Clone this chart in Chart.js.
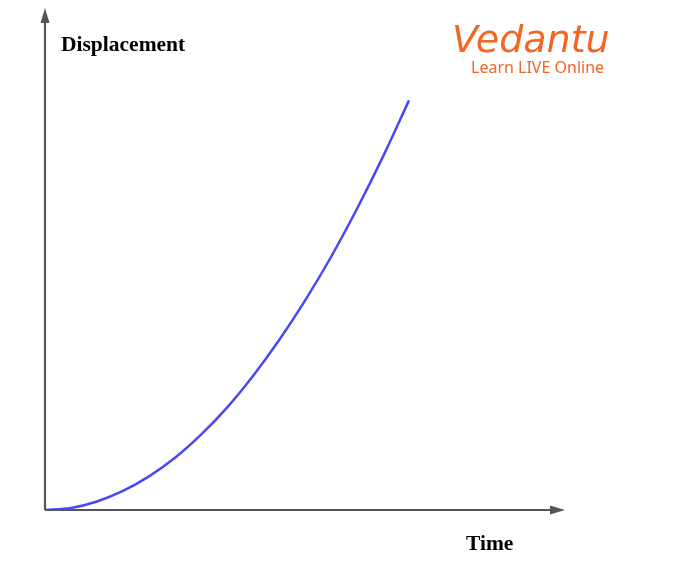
<!DOCTYPE html>
<html><head><meta charset="utf-8">
<script src="https://cdn.jsdelivr.net/npm/chart.js@4/dist/chart.umd.min.js"></script>
<style>html,body{margin:0;padding:0;background:#fff}#wrap{width:679px;height:568px;position:relative}</style>
</head><body><div id="wrap"><canvas id="c" width="679" height="568"></canvas></div>
<script>
const timeValues = [0, 0.5, 1, 1.5, 2, 2.5, 3, 3.5, 4, 4.5, 5, 5.5, 6, 6.5, 7];
const displacementValues = [0, 0.04, 0.17, 0.38, 0.67, 1.04, 1.5, 2.04, 2.67, 3.38, 4.17, 5.04, 6.0, 7.04, 8.16];
const xAxisLabel = "Time";
const yAxisLabel = "Displacement";
const brandName = "Vedantu";
const brandTag = "Learn LIVE Online";

const points = timeValues.map((t, i) => ({x: t, y: displacementValues[i]}));

const axesPlugin = {
  id: 'axes',
  afterDatasetsDraw(chart) {
    const {ctx, scales:{x, y}} = chart;
    const ox = x.getPixelForValue(0), oy = y.getPixelForValue(0);
    const xr = x.getPixelForValue(10), yt = y.getPixelForValue(10);
    ctx.save();
    ctx.strokeStyle = '#555'; ctx.fillStyle = '#555'; ctx.lineWidth = 2.2;
    ctx.beginPath(); ctx.moveTo(ox, oy); ctx.lineTo(xr - 12, oy); ctx.stroke();
    ctx.beginPath(); ctx.moveTo(ox, oy); ctx.lineTo(ox, yt + 12); ctx.stroke();
    ctx.beginPath(); ctx.moveTo(xr, oy); ctx.lineTo(xr - 15, oy - 4.5); ctx.lineTo(xr - 15, oy + 4.5); ctx.closePath(); ctx.fill();
    ctx.beginPath(); ctx.moveTo(ox, yt); ctx.lineTo(ox - 4.5, yt + 15); ctx.lineTo(ox + 4.5, yt + 15); ctx.closePath(); ctx.fill();
    ctx.fillStyle = '#000';
    ctx.font = 'bold 21.5px "Liberation Serif", "Times New Roman", serif';
    ctx.textBaseline = 'alphabetic'; ctx.textAlign = 'left';
    ctx.fillText(yAxisLabel, 61, 51);
    ctx.fillText(xAxisLabel, 466, 550);
    ctx.fillStyle = '#f26522';
    ctx.font = 'italic 38px "DejaVu Sans", sans-serif';
    ctx.fillText(brandName, 452, 52);
    ctx.font = '16px "Noto Sans", "DejaVu Sans", sans-serif';
    ctx.fillText(brandTag, 471, 73);
    ctx.restore();
  }
};

new Chart(document.getElementById('c'), {
  type: 'scatter',
  data: { datasets: [{
    data: points, showLine: true, borderColor: '#4a48f4', borderWidth: 2.5,
    pointRadius: 0, cubicInterpolationMode: 'monotone', fill: false
  }]},
  options: {
    responsive: false, animation: false,
    layout: { padding: { left: 45, right: 114, top: 8, bottom: 58 } },
    plugins: { legend: {display: false}, tooltip: {enabled: false} },
    scales: {
      x: { type: 'linear', min: 0, max: 10, display: false },
      y: { type: 'linear', min: 0, max: 10, display: false }
    }
  },
  plugins: [axesPlugin]
});
</script></body></html>
